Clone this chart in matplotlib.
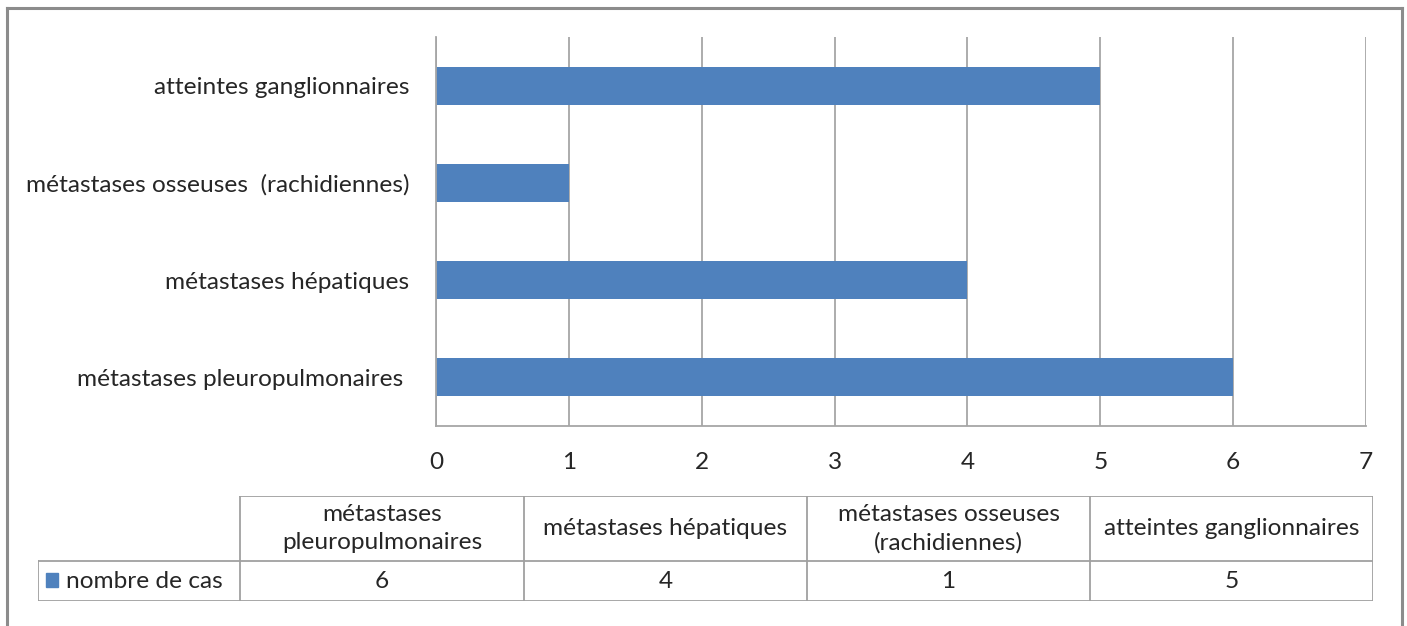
import matplotlib
matplotlib.use("Agg")
import matplotlib.pyplot as plt
from matplotlib.lines import Line2D
from matplotlib.patches import Rectangle

plt.rcParams['font.family'] = ['Lato', 'DejaVu Sans']

# ---- data ----
categories = ["métastases pleuropulmonaires ", "métastases hépatiques",
              "métastases osseuses  (rachidiennes)", "atteintes ganglionnaires"]
table_headers = ["métastases\npleuropulmonaires", "métastases hépatiques",
                 "métastases osseuses\n(rachidiennes)", "atteintes ganglionnaires"]
series_name = "nombre de cas"
values = [6, 4, 1, 5]
x_ticks = [0, 1, 2, 3, 4, 5, 6, 7]

BLUE = "#4F81BD"
GRID = "#A6A6A6"
TXT = "#262626"
FS = 17.6

W, H = 1407, 626
fig = plt.figure(figsize=(W / 100, H / 100), dpi=100)

def fx(px):
    return px / W

def fy(py):
    return 1 - py / H

# outer border (left, top, right)
for xs, ys in [([7, 7], [626, 8]), ([7, 1402], [8, 8]), ([1402, 1402], [8, 626])]:
    fig.add_artist(Line2D([fx(v) for v in xs], [fy(v) for v in ys],
                          color="#8C8C8C", lw=2.2, transform=fig.transFigure))

# ---- bar chart ----
ax = fig.add_axes([fx(436), fy(426), fx(1366) - fx(436), fy(37) - fy(426)])
ypos = list(range(len(categories)))
ax.barh(ypos, values, height=0.39, color=BLUE, zorder=3)
ax.set_xlim(x_ticks[0], x_ticks[-1])
ax.set_ylim(-0.5, len(categories) - 0.5)
ax.set_xticks(x_ticks)
ax.set_xticklabels([str(t) for t in x_ticks])
ax.set_yticks(ypos)
ax.set_yticklabels(categories)
ax.tick_params(axis='both', length=0, labelsize=FS, colors=TXT)
ax.tick_params(axis='x', pad=19)
ax.tick_params(axis='y', pad=19)
ax.grid(axis='x', color=GRID, lw=1.3, zorder=0)
for s in ['top', 'right']:
    ax.spines[s].set_visible(False)
for s in ['left', 'bottom']:
    ax.spines[s].set_color(GRID)
    ax.spines[s].set_linewidth(1.3)
    ax.spines[s].set_zorder(4)

# ---- data table ----
tx0, tx1, ty0, ty1 = 38, 1373, 496, 601
tax = fig.add_axes([fx(tx0), fy(ty1), fx(tx1) - fx(tx0), fy(ty0) - fy(ty1)])
tax.set_xlim(tx0, tx1)
tax.set_ylim(ty1, ty0)
tax.axis('off')
col_edges = [38, 240, 524, 807, 1090, 1373]
ymid = 561
lc = "#A0A0A0"
lw = 1.3
tax.plot([col_edges[1], tx1], [ty0, ty0], color=lc, lw=lw)
tax.plot([tx0, tx1], [ymid, ymid], color=lc, lw=lw)
tax.plot([tx0, tx1], [ty1, ty1], color=lc, lw=lw)
tax.plot([tx0, tx0], [ymid, ty1], color=lc, lw=lw)
for xe in col_edges[1:]:
    tax.plot([xe, xe], [ty0, ty1], color=lc, lw=lw)
for i, (hdr, v) in enumerate(zip(table_headers, values)):
    cx = (col_edges[i + 1] + col_edges[i + 2]) / 2
    tax.text(cx, (ty0 + ymid) / 2, hdr, ha='center', va='center',
             fontsize=FS, color=TXT, linespacing=1.4)
    tax.text(cx, (ymid + ty1) / 2 + 1, str(v), ha='center', va='center',
             fontsize=FS, color=TXT)
tax.add_patch(Rectangle((46, 573), 12, 14, color=BLUE))
tax.text(66, (ymid + ty1) / 2 + 1, series_name, ha='left', va='center',
         fontsize=FS, color=TXT)

fig.savefig("out.png", dpi=100)
